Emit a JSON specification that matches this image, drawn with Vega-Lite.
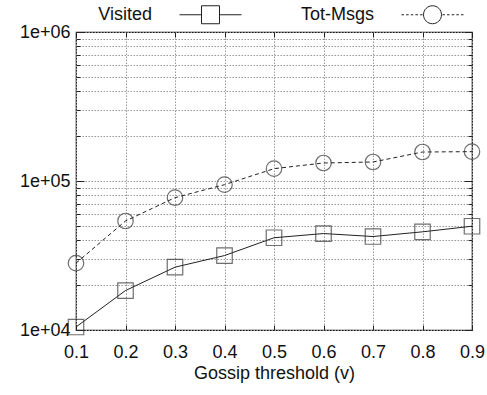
{
  "$schema": "https://vega.github.io/schema/vega-lite/v6.json",
  "width": 396,
  "height": 298,
  "autosize": {"type": "none"},
  "padding": {"left": 76, "top": 32, "right": 15, "bottom": 65},
  "config": {
    "view": {"stroke": "#111", "strokeWidth": 1.2},
    "font": "Liberation Sans",
    "axis": {
      "labelFont": "Liberation Sans",
      "labelFontSize": 18,
      "labelColor": "#111",
      "labelFlush": false,
      "titleFont": "Liberation Sans",
      "titleFontSize": 18,
      "titleFontWeight": "normal",
      "titleColor": "#111",
      "gridColor": "#999",
      "gridDash": [1.5, 1.5],
      "gridWidth": 1,
      "tickColor": "#222",
      "domain": false
    },
    "legend": {
      "labelFont": "Liberation Sans",
      "labelFontSize": 18,
      "labelColor": "#111"
    }
  },
  "data": {
    "values": [
      {"v": 0.1, "series": "Visited", "value": 10470},
      {"v": 0.2, "series": "Visited", "value": 18400},
      {"v": 0.3, "series": "Visited", "value": 26400},
      {"v": 0.4, "series": "Visited", "value": 31600},
      {"v": 0.5, "series": "Visited", "value": 41600},
      {"v": 0.6, "series": "Visited", "value": 44400},
      {"v": 0.7, "series": "Visited", "value": 42400},
      {"v": 0.8, "series": "Visited", "value": 45600},
      {"v": 0.9, "series": "Visited", "value": 49700},
      {"v": 0.1, "series": "Tot-Msgs", "value": 28100},
      {"v": 0.2, "series": "Tot-Msgs", "value": 53900},
      {"v": 0.3, "series": "Tot-Msgs", "value": 77300},
      {"v": 0.4, "series": "Tot-Msgs", "value": 94500},
      {"v": 0.5, "series": "Tot-Msgs", "value": 121000},
      {"v": 0.6, "series": "Tot-Msgs", "value": 132100},
      {"v": 0.7, "series": "Tot-Msgs", "value": 134100},
      {"v": 0.8, "series": "Tot-Msgs", "value": 156500},
      {"v": 0.9, "series": "Tot-Msgs", "value": 157400}
    ]
  },
  "layer": [
    {
      "transform": [{"filter": "datum.series == 'Visited'"}],
      "mark": {"type": "line", "color": "#222", "strokeWidth": 1},
      "encoding": {
        "x": {
          "field": "v", "type": "quantitative",
          "scale": {"domain": [0.1, 0.9], "nice": false, "zero": false},
          "axis": {
            "orient": "bottom",
            "values": [0.1, 0.2, 0.3, 0.4, 0.5, 0.6, 0.7, 0.8, 0.9],
            "format": ".1f",
            "grid": true,
            "tickSize": -5,
            "labelPadding": 18,
            "title": "Gossip threshold (v)",
            "titlePadding": 3
          }
        },
        "y": {
          "field": "value", "type": "quantitative",
          "scale": {"type": "log", "domain": [10000, 1000000], "nice": false},
          "axis": {
            "orient": "left",
            "values": [10000, 20000, 30000, 40000, 50000, 60000, 70000, 80000, 90000, 100000, 200000, 300000, 400000, 500000, 600000, 700000, 800000, 900000, 1000000],
            "labelExpr": "datum.value == 10000 ? '1e+04' : datum.value == 100000 ? '1e+05' : datum.value == 1000000 ? '1e+06' : ''",
            "grid": true,
            "tickSize": {"condition": {"test": "datum.value == 10000 || datum.value == 100000 || datum.value == 1000000", "value": -8}, "value": -4},
            "labelPadding": 14,
            "title": null
          }
        }
      }
    },
    {
      "transform": [{"filter": "datum.series == 'Tot-Msgs'"}],
      "mark": {"type": "line", "color": "#222", "strokeWidth": 1, "strokeDash": [4, 3]},
      "encoding": {
        "x": {"field": "v", "type": "quantitative", "axis": null},
        "y": {"field": "value", "type": "quantitative", "axis": null}
      }
    },
    {
      "transform": [{"filter": "datum.series == 'Visited'"}],
      "mark": {"type": "point", "shape": "square", "filled": false, "size": 240, "strokeWidth": 1.2, "color": "#333"},
      "encoding": {
        "x": {"field": "v", "type": "quantitative", "axis": null},
        "y": {"field": "value", "type": "quantitative", "axis": null}
      }
    },
    {
      "transform": [{"filter": "datum.series == 'Tot-Msgs'"}],
      "mark": {"type": "point", "shape": "circle", "filled": false, "size": 240, "strokeWidth": 1.2, "color": "#333"},
      "encoding": {
        "x": {"field": "v", "type": "quantitative", "axis": null},
        "y": {"field": "value", "type": "quantitative", "axis": null}
      }
    },
    {
      "mark": {"type": "point", "filled": false, "opacity": 0, "size": 1},
      "encoding": {
        "x": {"field": "v", "type": "quantitative", "axis": null},
        "y": {"field": "value", "type": "quantitative", "axis": null},
        "shape": {
          "field": "series", "type": "nominal",
          "scale": {
            "domain": ["Visited", "Tot-Msgs"],
            "range": [
              "M-1,0H-0.29M0.29,0H1M-0.29,-0.29H0.29V0.29H-0.29Z",
              "M-1,0H-0.92M-0.85,0H-0.77M-0.7,0H-0.62M-0.55,0H-0.47M-0.4,0H-0.32M0.32,0H0.4M0.47,0H0.55M0.62,0H0.7M0.77,0H0.85M0.92,0H1M0.29,0A0.29,0.29 0 1,1 -0.29,0A0.29,0.29 0 1,1 0.29,0Z"
            ]
          },
          "legend": {
            "title": null,
            "orient": "none",
            "direction": "horizontal",
            "legendX": 103,
            "legendY": -49,
            "symbolSize": 3844,
            "symbolOpacity": 1,
            "symbolStrokeWidth": 1,
            "symbolStrokeColor": "#222",
            "symbolFillColor": "transparent",
            "labelAlign": "right",
            "labelOffset": -90,
            "columnPadding": 56
          }
        }
      }
    },
    {
      "mark": {"type": "line", "opacity": 0},
      "encoding": {
        "x": {
          "field": "v", "type": "quantitative",
          "axis": {
            "orient": "top",
            "values": [0.1, 0.2, 0.3, 0.4, 0.5, 0.6, 0.7, 0.8, 0.9],
            "labels": false,
            "grid": false,
            "tickSize": -5,
            "title": null
          }
        },
        "y": {
          "field": "value", "type": "quantitative",
          "axis": {
            "orient": "right",
            "values": [10000, 20000, 30000, 40000, 50000, 60000, 70000, 80000, 90000, 100000, 200000, 300000, 400000, 500000, 600000, 700000, 800000, 900000, 1000000],
            "labels": false,
            "grid": false,
            "tickSize": {"condition": {"test": "datum.value == 10000 || datum.value == 100000 || datum.value == 1000000", "value": -8}, "value": -4},
            "title": null
          }
        },
        "detail": {"field": "series"}
      }
    }
  ],
  "resolve": {"axis": {"x": "independent", "y": "independent"}}
}
